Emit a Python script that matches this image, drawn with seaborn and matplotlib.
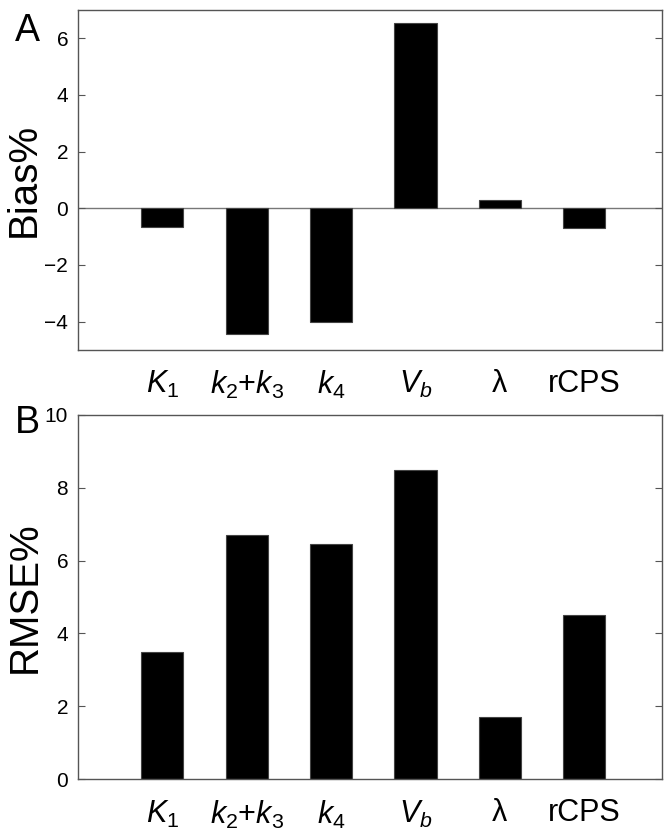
import numpy as np
import pandas as pd
import seaborn as sns
import matplotlib.pyplot as plt

# parameter labels (mathtext for the italic subscripts)
params = [r'$K_{\mathit{1}}$', r'$k_{\mathit{2}}$+$k_{\mathit{3}}$', r'$k_{\mathit{4}}$',
          r'$V_{\mathit{b}}$', 'λ', 'rCPS']
bias = [-0.65, -4.45, -4.0, 6.55, 0.3, -0.68]
rmse = [3.5, 6.7, 6.45, 8.5, 1.7, 4.5]

sns.set_style('white')
plt.rcParams['font.family'] = ['Liberation Sans', 'DejaVu Sans']
plt.rcParams['mathtext.fontset'] = 'custom'
plt.rcParams['mathtext.rm'] = 'Liberation Sans'
plt.rcParams['mathtext.it'] = 'Liberation Sans:italic'
plt.rcParams['text.color'] = 'black'
plt.rcParams['axes.labelcolor'] = 'black'
plt.rcParams['xtick.color'] = 'black'
plt.rcParams['ytick.color'] = 'black'

df = pd.DataFrame({'param': params, 'bias': bias, 'rmse': rmse})

fig = plt.figure(figsize=(6.72, 8.35), dpi=100)
ax1 = fig.add_axes([0.116, 0.581, 0.869, 0.407])
ax2 = fig.add_axes([0.116, 0.067, 0.869, 0.436])

frame = '#555555'


def style(ax, ylim, yticks, ylabel, letter, ly):
    ax.set_xlim(-1, 5.92)
    ax.set_ylim(*ylim)
    ax.set_yticks(yticks)
    ax.set_yticklabels([str(t).replace('-', '\u2212') for t in yticks], fontsize=15)
    ax.set_xticks(range(len(params)))
    ax.set_xticklabels(params, fontsize=22)
    ax.tick_params(axis='x', length=0, pad=14)
    ax.tick_params(axis='y', direction='in', length=5, color=frame, left=True, right=True, pad=7)
    for s in ax.spines.values():
        s.set_color(frame)
        s.set_linewidth(1.0)
    ax.set_xlabel('')
    ax.set_ylabel(ylabel, fontsize=29, labelpad=1)
    fig.text(0.022, ly, letter, fontsize=27, va='top', ha='left')


sns.barplot(data=df, x='param', y='bias', color='black', width=0.5,
            edgecolor='#444444', linewidth=0.8, saturation=1, ax=ax1)
ax1.axhline(0, color='#777777', linewidth=1.0, zorder=0)
style(ax1, (-5, 7), [-4, -2, 0, 2, 4, 6], 'Bias%', 'A', 0.985)

sns.barplot(data=df, x='param', y='rmse', color='black', width=0.5,
            edgecolor='#444444', linewidth=0.8, saturation=1, ax=ax2)
style(ax2, (0, 10), [0, 2, 4, 6, 8, 10], 'RMSE%', 'B', 0.515)

fig.savefig('out.png', dpi=100)
